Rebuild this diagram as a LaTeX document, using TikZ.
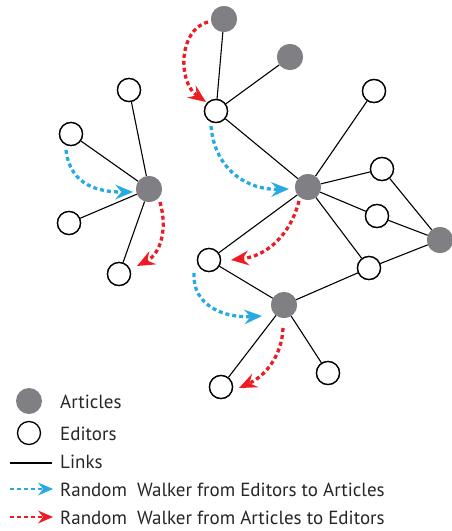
\documentclass[tikz,border=0pt]{standalone}
\usepackage{fontspec}
\setmainfont{PT Sans}
\usetikzlibrary{arrows.meta}
\definecolor{artgray}{RGB}{128,128,132}
\definecolor{walkblue}{RGB}{39,170,225}
\definecolor{walkred}{RGB}{237,28,36}
\tikzset{
  art/.style={circle,fill=artgray,minimum size=26pt,inner sep=0pt},
  edt/.style={circle,draw=black,fill=white,line width=1.3pt,minimum size=23pt,inner sep=0pt},
  link/.style={line width=1.1pt},
  walk/.style={line width=3.3pt,dash pattern=on 4pt off 3pt,
    -{Stealth[length=18pt,width=15pt,inset=6.5pt,line width=0pt]}},
  bwalk/.style={walk,draw=walkblue},
  rwalk/.style={walk,draw=walkred},
  legwalk/.style={line width=2.8pt,dash pattern=on 4pt off 3pt,
    -{Stealth[length=15pt,width=13pt,inset=5pt,line width=0pt]}},
  lab/.style={anchor=west,font=\fontsize{19pt}{22pt}\selectfont,text=black!85,inner sep=0pt},
}
\begin{document}
\begin{tikzpicture}[x=1pt,y=-1pt]
\useasboundingbox (0,0) rectangle (451,531);
% left cluster
\node[art] (a1) at (149,189) {};
\node[edt] (l1) at (129,90) {};
\node[edt] (l2) at (71,134) {};
\node[edt] (l3) at (69,223) {};
\node[edt] (l4) at (119,274) {};
% top and central
\node[art] (a2) at (224,19) {};
\node[art] (a3) at (290,57) {};
\node[edt] (h) at (216,111) {};
\node[art] (c) at (308,187) {};
\node[edt] (tr) at (374,91) {};
\node[edt] (r1) at (382,169) {};
\node[edt] (r2) at (377,216) {};
\node[art] (ar) at (440,240) {};
\node[edt] (lr) at (369,268) {};
\node[edt] (ll) at (209,260) {};
\node[art] (ab) at (284,305) {};
\node[edt] (bl) at (221,387) {};
\node[edt] (br) at (328,373) {};
% links
\foreach \u/\v in {a1/l1,a1/l2,a1/l3,a1/l4,a2/h,a3/h,h/c,c/tr,c/r1,c/r2,c/lr,c/ll,r1/ar,r2/ar,lr/ar,ll/ab,ab/lr,ab/bl,ab/br}
  \draw[link] (\u) -- (\v);
% redraw nodes on top
\foreach \n in {a1,a2,a3,c,ar,ab} \node[art] at (\n) {};
\foreach \n in {l1,l2,l3,l4,h,tr,r1,r2,lr,ll,bl,br} \node[edt] at (\n) {};
% random walks
\coordinate (w1s) at (66,150); \coordinate (w1e) at (133,192);
\draw[bwalk] (w1s) .. controls (70,186) and (100,192) .. (w1e);
\coordinate (w2s) at (160,202); \coordinate (w2e) at (137,266);
\draw[rwalk] (w2s) .. controls (168,230) and (160,254) .. (w2e);
\coordinate (w3s) at (208,22); \coordinate (w3e) at (206,102);
\draw[rwalk] (w3s) .. controls (178,30) and (178,82) .. (w3e);
\coordinate (w4s) at (211,126); \coordinate (w4e) at (289,189);
\draw[bwalk] (w4s) .. controls (215,172) and (250,190) .. (w4e);
\coordinate (w5s) at (299,201); \coordinate (w5e) at (231,260);
\draw[rwalk] (w5s) .. controls (290,236) and (266,256) .. (w5e);
\coordinate (w6s) at (194,273); \coordinate (w6e) at (262,316);
\draw[bwalk] (w6s) .. controls (192,306) and (225,318) .. (w6e);
\coordinate (w7s) at (283,328); \coordinate (w7e) at (239,388);
\draw[rwalk] (w7s) .. controls (282,356) and (265,376) .. (w7e);
% legend
\node[art] (la) at (29,401) {};
\node[lab] (ta) at (60,402) {Articles};
\node[edt] (le) at (29,433) {};
\node[lab] (te) at (60,434) {Editors};
\coordinate (k1) at (10,463); \coordinate (k2) at (52,463);
\draw[link] (k1) -- (k2);
\node[lab] (tk) at (60,462) {Links};
\coordinate (b1) at (10,489); \coordinate (b2) at (53,489);
\draw[legwalk,draw=walkblue] (b1) -- (b2);
\node[lab] (tb) at (60,490) {Random\ \ Walker from Editors to Articles};
\coordinate (c1) at (10,517); \coordinate (c2) at (53,517);
\draw[legwalk,draw=walkred] (c1) -- (c2);
\node[lab] (tc) at (60,518) {Random\ \ Walker from Articles to Editors};
\end{tikzpicture}
\end{document}
